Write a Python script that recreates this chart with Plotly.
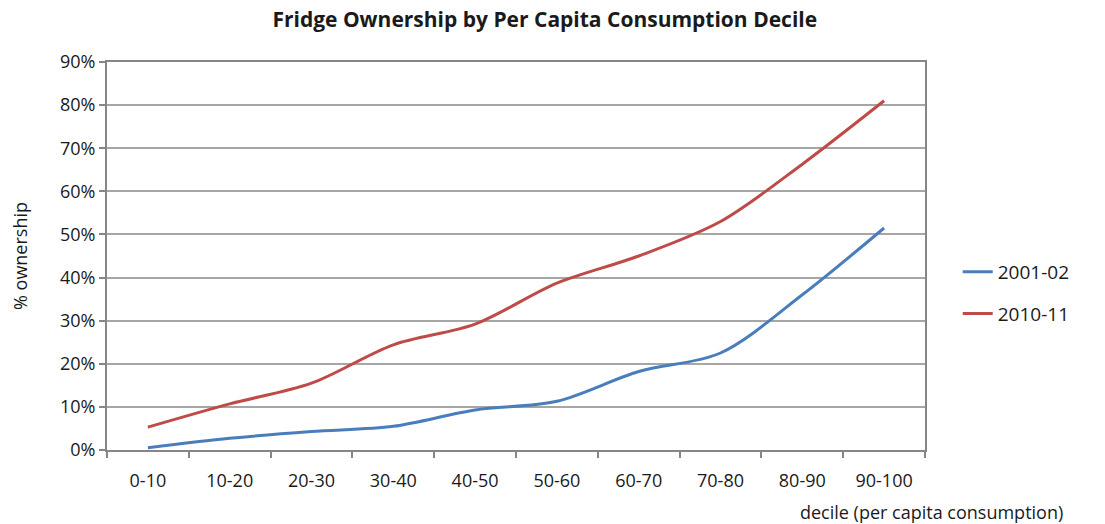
import plotly.graph_objects as go

deciles = ["0-10", "10-20", "20-30", "30-40", "40-50",
           "50-60", "60-70", "70-80", "80-90", "90-100"]
own_2001 = [0.005, 0.027, 0.043, 0.055, 0.093, 0.113, 0.182, 0.225, 0.36, 0.515]
own_2010 = [0.053, 0.107, 0.155, 0.244, 0.292, 0.387, 0.45, 0.53, 0.663, 0.81]
y_ticks = [0, 0.1, 0.2, 0.3, 0.4, 0.5, 0.6, 0.7, 0.8, 0.9]

FONT = "Open Sans, Liberation Sans, sans-serif"
TEXT = "#1a1a1a"
GRID = "#a6a6a6"

fig = go.Figure()
fig.add_trace(go.Scatter(
    x=deciles, y=own_2001, name="2001-02", mode="lines", legendgroup="a",
    line=dict(color="#4a7ebb", width=3, shape="spline", smoothing=0.9),
))
fig.add_trace(go.Scatter(
    x=deciles, y=own_2010, name="2010-11", mode="lines", legendgroup="b",
    line=dict(color="#be4b48", width=3, shape="spline", smoothing=0.9),
))

fig.update_layout(
    width=1105, height=524,
    margin=dict(l=107, r=180, t=62, b=74),
    paper_bgcolor="white", plot_bgcolor="white",
    font=dict(family=FONT, size=18, color=TEXT),
    title=dict(text="<b>Fridge Ownership by Per Capita Consumption Decile</b>",
               x=0.493, xanchor="center", y=0.962, yanchor="middle",
               font=dict(family=FONT, size=21, color=TEXT)),
    showlegend=True,
    legend=dict(x=1.04, xanchor="left", y=0.405, yanchor="middle",
                font=dict(family=FONT, size=19, color=TEXT),
                tracegroupgap=14, bgcolor="rgba(0,0,0,0)"),
    xaxis=dict(
        type="category", tickson="boundaries",
        showline=True, linecolor="#868686", linewidth=2, mirror=True,
        ticks="outside", ticklen=6, tickcolor="#868686", tickwidth=1.5,
        showgrid=False, tickfont=dict(family=FONT, size=18, color=TEXT),
        ticklabelstandoff=13,
        range=[-0.5, 9.5],
    ),
    yaxis=dict(
        range=[0, 0.9], tickvals=y_ticks, tickformat=".0%",
        showline=True, linecolor="#868686", linewidth=2, mirror=True,
        ticks="outside", ticklen=6, tickcolor="#868686", tickwidth=1.5,
        showgrid=True, gridcolor=GRID, gridwidth=1.5,
        tickfont=dict(family=FONT, size=18, color=TEXT),
        title=dict(text="% ownership", standoff=28,
                   font=dict(family=FONT, size=18, color=TEXT)),
        zeroline=False,
    ),
    annotations=[dict(
        text="decile (per capita consumption)", xref="paper", yref="paper",
        x=1.171, y=-0.16, xanchor="right", yanchor="middle", showarrow=False,
        font=dict(family=FONT, size=18, color=TEXT),
    )],
)

fig.write_html("out.html")
